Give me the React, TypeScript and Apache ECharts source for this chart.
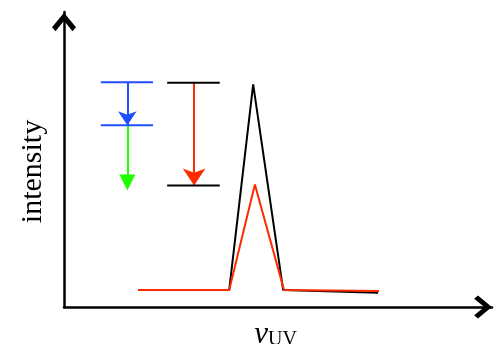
import React, { useEffect, useRef } from 'react';
import * as echarts from 'echarts';

// Spectrum (arbitrary units, 0–100 on both axes)
const spectrumX = [17.3, 38.6, 44.2, 51.2, 73.4];
const blackY = [5.8, 5.8, 75.5, 5.8, 4.8];
const redX = [17.3, 38.6, 44.6, 51.4, 73.6];
const redY = [5.8, 5.8, 41.5, 5.8, 5.4];

// Energy-level diagrams
const blueLevelX = [8.6, 20.8];
const blueLevels = [76.2, 61.6];
const blueArrowX = 14.8;
const greenArrowEnd = 42.2;
const blackLevelX = [24.1, 36.4];
const blackLevels = [76.0, 41.2];
const redArrowX = 30.4;

const BLUE = '#1f4dff';
const GREEN = '#22ff00';
const RED = '#ff2a00';
const SERIF = '"Liberation Serif", "Times New Roman", serif';
const CHEVRON = 'path://M12 0 L24 14.5 L20.5 18.5 L12 8 L3.5 18.5 L0 14.5 Z';

export default function App() {
  const ref = useRef<HTMLDivElement>(null);
  useEffect(() => {
    if (!ref.current) return;
    const chart = echarts.init(ref.current, undefined, { renderer: 'svg' });
    const level = (xs: number[], y: number, color: string) => ({
      type: 'line',
      data: [[xs[0], y], [xs[1], y]],
      symbol: 'none',
      lineStyle: { color, width: 2 },
      silent: true,
    });
    const arrow = (x: number, from: number, to: number, color: string, head: string, size: number[]) => ({
      type: 'lines',
      coordinateSystem: 'cartesian2d',
      symbol: ['none', head],
      symbolSize: size,
      lineStyle: { width: 2, opacity: 1, color },
      data: [{ coords: [[x, from], [x, to]] }],
    });
    chart.setOption({
      animation: false,
      grid: { left: 64, right: 2, top: 12, bottom: 37, outerBoundsMode: 'none' },
      xAxis: {
        type: 'value',
        min: 0,
        max: 100,
        axisLabel: { show: false },
        axisTick: { show: false },
        splitLine: { show: false },
        axisLine: {
          show: true,
          onZero: false,
          lineStyle: { color: '#000', width: 2.5 },
          symbol: ['none', CHEVRON],
          symbolSize: [23, 18],
          symbolOffset: [0, -9],
        },
        name: '{nu|ν}{sub|UV}',
        nameLocation: 'middle',
        nameGap: 10,
        nameTextStyle: {
          padding: [0, 5, 0, 0],
          rich: {
            nu: { fontFamily: SERIF, fontStyle: 'italic', fontSize: 31, color: '#000' },
            sub: { fontFamily: SERIF, fontSize: 20, color: '#000', verticalAlign: 'bottom' },
          },
        },
      },
      yAxis: {
        type: 'value',
        min: 0,
        max: 100,
        axisLabel: { show: false },
        axisTick: { show: false },
        splitLine: { show: false },
        axisLine: {
          show: true,
          onZero: false,
          lineStyle: { color: '#000', width: 2.5 },
          symbol: ['none', CHEVRON],
          symbolSize: [24, 20],
          symbolOffset: [0, -10],
        },
        name: 'intensity',
        nameLocation: 'middle',
        nameRotate: 90,
        nameGap: 19,
        nameTextStyle: {
          fontFamily: SERIF,
          fontSize: 30,
          color: '#000',
          padding: [0, 24, 0, 0],
        },
      },
      series: [
        {
          type: 'line',
          data: spectrumX.map((x, i) => [x, blackY[i]]),
          symbol: 'none',
          lineStyle: { color: '#000', width: 2 },
        },
        {
          type: 'line',
          data: redX.map((x, i) => [x, redY[i]]),
          symbol: 'none',
          lineStyle: { color: RED, width: 2 },
        },
        level(blueLevelX, blueLevels[0], BLUE),
        level(blueLevelX, blueLevels[1], BLUE),
        level(blackLevelX, blackLevels[0], '#000'),
        level(blackLevelX, blackLevels[1], '#000'),
        arrow(blueArrowX, blueLevels[0], blueLevels[1], BLUE, 'arrow', [16, 14]),
        arrow(redArrowX, blackLevels[0], blackLevels[1], RED, 'arrow', [17, 17]),
        arrow(blueArrowX, blueLevels[1], greenArrowEnd, GREEN, 'triangle', [17, 16]),
      ],
    });
    return () => chart.dispose();
  }, []);
  return <div ref={ref} style={{ position: 'fixed', left: 0, top: 0, width: 494, height: 344 }} />;
}
